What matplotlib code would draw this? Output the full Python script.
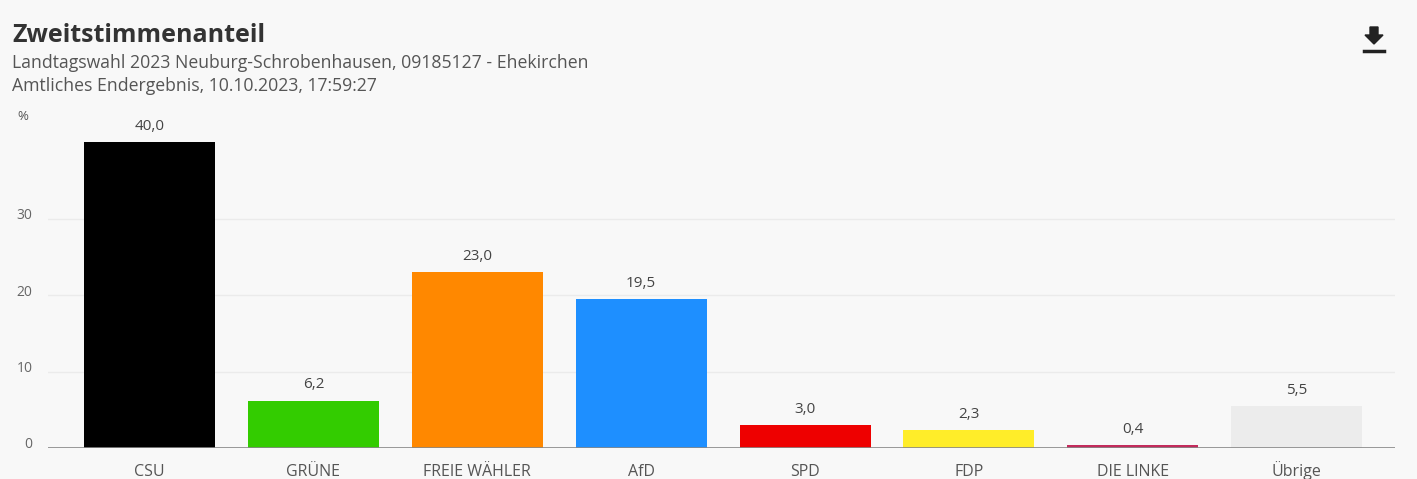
import matplotlib
matplotlib.use("Agg")
import matplotlib.pyplot as plt
from matplotlib.patches import Polygon
from matplotlib.transforms import ScaledTranslation

# Daten
parteien = ["CSU", "GRÜNE", "FREIE WÄHLER", "AfD", "SPD", "FDP", "DIE LINKE", "Übrige"]
anteile = [40.0, 6.2, 23.0, 19.5, 3.0, 2.3, 0.4, 5.5]
farben = ["#000000", "#33cc00", "#ff8800", "#1e8fff", "#ee0000", "#ffed29", "#c32b5c", "#ececec"]
yticks = [0, 10, 20, 30]

bg = "#f8f8f8"
plt.rcParams["font.family"] = ["Open Sans", "DejaVu Sans"]

fig = plt.figure(figsize=(14.17, 4.79), dpi=100, facecolor=bg)
ax = fig.add_axes([48 / 1417, 31 / 479, 1347 / 1417, 318 / 479], facecolor=bg)

x = range(len(parteien))
ax.bar(x, anteile, width=0.8, color=farben, zorder=3)
for i, v in zip(x, anteile):
    ax.text(i, v + 1.1, f"{v:.1f}".replace(".", ","), ha="center", va="bottom",
            fontsize=11, color="#444444")

ax.set_xlim(-0.62, 7.6)
ax.set_ylim(0, 41.6)
ax.set_yticks(yticks)
ax.set_yticklabels([str(t) for t in yticks], fontsize=10, color="#666666")
ax.set_xticks(list(x))
ax.set_xticklabels(parteien, fontsize=11.5, color="#555555", va="baseline")
ax.tick_params(axis="both", length=0)
ax.tick_params(axis="y", pad=11)
ax.tick_params(axis="x", pad=20)
for lbl in ax.get_yticklabels():
    lbl.set_transform(lbl.get_transform() + ScaledTranslation(0, 5 / 100, fig.dpi_scale_trans))
for t in yticks[1:]:
    ax.axhline(t, color="#ebebeb", lw=1, zorder=1)
ax.axhline(0, color="#888888", lw=1.2, zorder=4)
for s in ax.spines.values():
    s.set_visible(False)

# Titel
fig.text(12 / 1417, 1 - 35 / 479, "Zweitstimmenanteil", fontsize=18, fontweight="bold",
         color="#333333", va="center")
fig.text(12 / 1417, 1 - 63 / 479, "Landtagswahl 2023 Neuburg-Schrobenhausen, 09185127 - Ehekirchen",
         fontsize=12.7, color="#555555", va="center")
fig.text(12 / 1417, 1 - 86 / 479, "Amtliches Endergebnis, 10.10.2023, 17:59:27",
         fontsize=12.7, color="#555555", va="center")
fig.text(17 / 1417, 1 - 116 / 479, "%", fontsize=9.5, color="#555555", va="center")

# Download-Symbol
cx, cy = 1374, 38
pts = [(cx - 4, cy - 11), (cx + 4, cy - 11), (cx + 4, cy - 3), (cx + 9, cy - 3),
       (cx, cy + 6), (cx - 9, cy - 3), (cx - 4, cy - 3)]
fig.patches.append(Polygon([(px / 1417, 1 - py / 479) for px, py in pts], closed=True,
                           transform=fig.transFigure, color="#222222"))
fig.add_artist(plt.Line2D([(cx - 10) / 1417, (cx + 10) / 1417], [1 - (cy + 13) / 479] * 2,
                          transform=fig.transFigure, color="#222222", lw=2.5))

fig.savefig("out.png", dpi=100, facecolor=bg)
